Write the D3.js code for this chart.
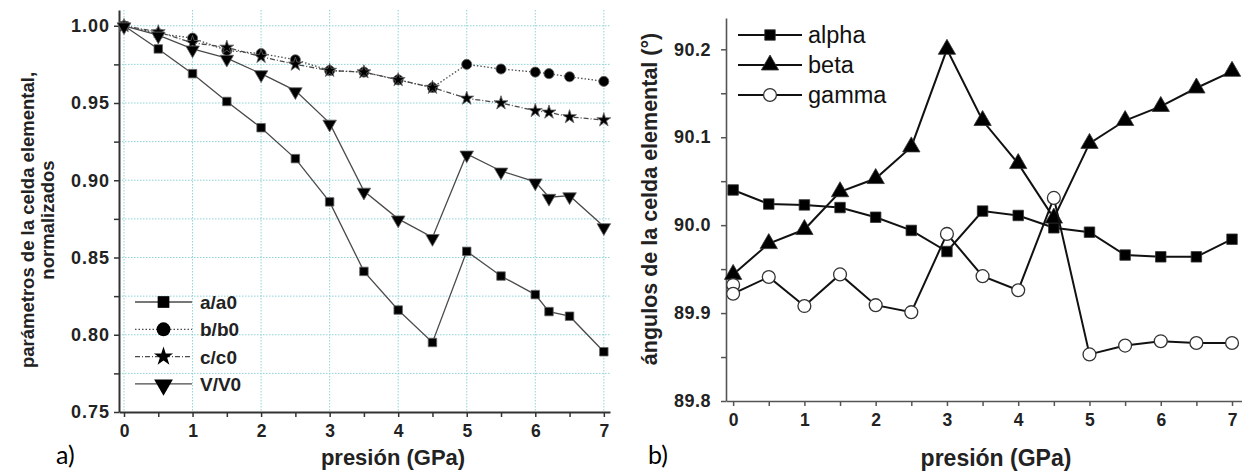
<!DOCTYPE html>
<html>
<head>
<meta charset="utf-8">
<script src="https://cdn.jsdelivr.net/npm/d3@7"></script>
<style>
  body { margin: 0; background: #fff; }
  svg { display: block; font-family: "Liberation Sans", Arial, sans-serif; }
  .tick text { font-weight: bold; fill: #222; }
</style>
</head>
<body>
<svg id="chart" width="1242" height="472"></svg>
<script>
"use strict";

// panel a) normalized cell parameters
const pressA = [0, 0.5, 1, 1.5, 2, 2.5, 3, 3.5, 4, 4.5, 5, 5.5, 6, 6.2, 6.5, 7];
const aRatio = [1.000, 0.985, 0.969, 0.951, 0.934, 0.914, 0.886, 0.841, 0.816, 0.795, 0.854, 0.838, 0.826, 0.815, 0.812, 0.789];
const bRatio = [1.000, 0.995, 0.992, 0.984, 0.982, 0.978, 0.971, 0.970, 0.965, 0.960, 0.975, 0.972, 0.970, 0.969, 0.967, 0.964];
const cRatio = [1.000, 0.996, 0.989, 0.986, 0.980, 0.975, 0.971, 0.970, 0.965, 0.960, 0.953, 0.950, 0.945, 0.944, 0.941, 0.939];
const vRatio = [1.000, 0.994, 0.985, 0.979, 0.969, 0.958, 0.937, 0.893, 0.875, 0.863, 0.917, 0.906, 0.899, 0.889, 0.890, 0.870];
const namesA = ["a/a0", "b/b0", "c/c0", "V/V0"];
const ticksA = [0.75, 0.80, 0.85, 0.90, 0.95, 1.00];

// panel b) cell angles
const pressB = [0, 0.5, 1, 1.5, 2, 2.5, 3, 3.5, 4, 4.5, 5, 5.5, 6, 6.5, 7];
const alpha = [90.040, 90.024, 90.023, 90.020, 90.009, 89.994, 89.970, 90.016, 90.011, 89.997, 89.992, 89.966, 89.964, 89.964, 89.984];
const beta  = [89.944, 89.979, 89.995, 90.038, 90.053, 90.089, 90.200, 90.119, 90.070, 90.008, 90.093, 90.119, 90.135, 90.156, 90.175];
const pressGamma = [0, 0, 0.5, 1, 1.5, 2, 2.5, 3, 3.5, 4, 4.5, 5, 5.5, 6, 6.5, 7];
const gamma = [89.932, 89.922, 89.941, 89.908, 89.944, 89.909, 89.901, 89.990, 89.942, 89.926, 90.031, 89.853, 89.863, 89.868, 89.866, 89.866];
const namesB = ["alpha", "beta", "gamma"];
const ticksB = [89.8, 89.9, 90.0, 90.1, 90.2];

const svg = d3.select("#chart");

// ---------- panel a ----------
const xA = d3.scaleLinear().domain([-0.073, 7.09]).range([119, 610]);
const yA = d3.scaleLinear().domain([0.75, 1.0102]).range([412, 10]);

const gA = svg.append("g");

// dotted grid: integer pressures, every 0.025 in y
gA.append("g").selectAll("line")
    .data(d3.range(0, 8))
    .join("line")
    .attr("x1", d => xA(d)).attr("x2", d => xA(d))
    .attr("y1", yA.range()[1]).attr("y2", yA.range()[0])
    .attr("stroke", "#8fd3d8").attr("stroke-width", 1).attr("stroke-dasharray", "1.5,1.5");
gA.append("g").selectAll("line")
    .data(d3.range(0.775, 1.01, 0.025))
    .join("line")
    .attr("x1", xA.range()[0]).attr("x2", xA.range()[1])
    .attr("y1", d => yA(d)).attr("y2", d => yA(d))
    .attr("stroke", "#8fd3d8").attr("stroke-width", 1).attr("stroke-dasharray", "1.5,1.5");

const axisA = (g, axis) => {
    g.call(axis);
    g.select(".domain").attr("stroke", "#333").attr("stroke-width", 2);
    g.selectAll(".tick line").attr("stroke", "#333").attr("stroke-width", 1.5);
};

gA.append("g")
    .attr("transform", "translate(0,412)")
    .call(g => axisA(g, d3.axisBottom(xA).tickValues(d3.range(0, 7.01, 0.5)).tickSize(5).tickPadding(5).tickSizeOuter(0)
        .tickFormat(d => Number.isInteger(d) ? d : "")))
    .selectAll(".tick text").attr("font-size", 17.5).attr("dy", "0.85em");
gA.append("g")
    .attr("transform", "translate(119,0)")
    .call(g => axisA(g, d3.axisLeft(yA).tickValues(d3.range(0.75, 1.01, 0.025)).tickSize(5).tickPadding(4).tickSizeOuter(0)
        .tickFormat(d => ticksA.some(t => Math.abs(t - d) < 1e-6) ? d3.format(".2f")(d) : "")))
    .selectAll(".tick text").attr("font-size", 18).attr("letter-spacing", 1);

const seriesA = [
    { name: namesA[0], values: aRatio, dash: null, symbol: d3.symbolSquare, size: 72 },
    { name: namesA[1], values: bRatio, dash: "1.5,2", symbol: d3.symbolCircle, size: 80 },
    { name: namesA[2], values: cRatio, dash: "5,2,1,2", symbol: d3.symbolStar, size: 60 },
    { name: namesA[3], values: vRatio, dash: null, symbol: d3.symbolTriangle, size: 80, flip: true }
];

const lineA = d3.line().x(d => xA(d[0])).y(d => yA(d[1]));
seriesA.forEach(s => {
    const pts = pressA.map((p, i) => [p, s.values[i]]);
    gA.append("path")
        .datum(pts)
        .attr("d", lineA)
        .attr("fill", "none")
        .attr("stroke", "#4a4a4a")
        .attr("stroke-width", 1.3)
        .attr("stroke-dasharray", s.dash);
    gA.append("g").selectAll("path")
        .data(pts)
        .join("path")
        .attr("d", d3.symbol(s.symbol, s.size))
        .attr("transform", d => `translate(${xA(d[0])},${yA(d[1])})` + (s.flip ? " rotate(180) translate(0,-1)" : ""))
        .attr("fill", "#000")
        .attr("stroke", "#666")
        .attr("stroke-width", 0.8);
});

// legend
const legA = gA.append("g").attr("transform", "translate(135,302)");
seriesA.forEach((s, i) => {
    const row = legA.append("g").attr("transform", `translate(0,${i * 27.3})`);
    row.append("line")
        .attr("x1", 0).attr("x2", 57)
        .attr("stroke", "#4a4a4a").attr("stroke-width", 1.3)
        .attr("stroke-dasharray", s.dash);
    row.append("path")
        .attr("d", d3.symbol(s.symbol, s.size * 1.9))
        .attr("transform", "translate(28.5,0)" + (s.flip ? " rotate(180) translate(0,-1)" : ""))
        .attr("fill", "#000");
    row.append("text")
        .attr("x", 65).attr("y", 7)
        .attr("font-size", 19).attr("font-weight", "bold")
        .attr("fill", "#222")
        .text(s.name);
});

gA.append("text")
    .attr("transform", "translate(34,220) rotate(-90)")
    .attr("text-anchor", "middle")
    .attr("font-size", 18.5).attr("font-weight", "bold").attr("fill", "#222")
    .selectAll("tspan")
    .data(["parámetros de la celda elemental,", "normalizados"])
    .join("tspan")
    .attr("x", 0).attr("dy", (d, i) => i === 0 ? 0 : 20)
    .text(d => d);

gA.append("text")
    .attr("x", 393).attr("y", 465)
    .attr("text-anchor", "middle")
    .attr("font-size", 22).attr("font-weight", "bold").attr("fill", "#222")
    .text("presión (GPa)");

svg.append("text")
    .attr("x", 56).attr("y", 464)
    .attr("font-family", "Lato, 'Open Sans', sans-serif")
    .attr("font-size", 25).attr("fill", "#000")
    .text("a)");

// ---------- panel b ----------
const xB = d3.scaleLinear().domain([-0.1, 7.14]).range([726, 1242]);
const yB = d3.scaleLinear().domain([89.8, 90.2356]).range([401, 18]);

const gB = svg.append("g");

const axisB = (g, axis) => {
    g.call(axis);
    g.select(".domain").attr("stroke", "#555").attr("stroke-width", 1.6);
    g.selectAll(".tick line").attr("stroke", "#555").attr("stroke-width", 1.5);
};

gB.append("g")
    .attr("transform", "translate(0,401)")
    .call(g => axisB(g, d3.axisBottom(xB).tickValues(d3.range(0, 7.01, 0.5)).tickSize(5).tickPadding(5).tickSizeOuter(0)
        .tickFormat(d => Number.isInteger(d) ? d : "")))
    .selectAll(".tick text").attr("font-size", 17.5).attr("dy", "0.85em");
gB.append("g")
    .attr("transform", "translate(726,0)")
    .call(g => axisB(g, d3.axisLeft(yB).tickValues(d3.range(89.8, 90.21, 0.05)).tickSize(5).tickPadding(10).tickSizeOuter(0)
        .tickFormat(d => ticksB.some(t => Math.abs(t - d) < 1e-6) ? d3.format(".1f")(d) : "")))
    .selectAll(".tick text").attr("font-size", 18).attr("letter-spacing", 0.5);

const seriesB = [
    { name: namesB[0], x: pressB, values: alpha, symbol: d3.symbolSquare, size: 110, fill: "#000" },
    { name: namesB[1], x: pressB, values: beta, symbol: d3.symbolTriangle, size: 130, fill: "#000" },
    { name: namesB[2], x: pressGamma, values: gamma, symbol: d3.symbolCircle, size: 130, fill: "#fff" }
];

const lineB = d3.line().x(d => xB(d[0])).y(d => yB(d[1]));
seriesB.forEach(s => {
    const pts = s.x.map((p, i) => [p, s.values[i]]);
    gB.append("path")
        .datum(pts)
        .attr("d", lineB)
        .attr("fill", "none")
        .attr("stroke", "#111")
        .attr("stroke-width", 2);
    gB.append("g").selectAll("path")
        .data(pts)
        .join("path")
        .attr("d", d3.symbol(s.symbol, s.size))
        .attr("transform", d => `translate(${xB(d[0])},${yB(d[1])})`)
        .attr("fill", s.fill)
        .attr("stroke", "#333")
        .attr("stroke-width", s.fill === "#fff" ? 1.3 : 0.8);
});

const legB = gB.append("g").attr("transform", "translate(738,35)");
seriesB.forEach((s, i) => {
    const row = legB.append("g").attr("transform", `translate(0,${i * 30})`);
    row.append("line")
        .attr("x1", 0).attr("x2", 64)
        .attr("stroke", "#111").attr("stroke-width", 2);
    row.append("path")
        .attr("d", d3.symbol(s.symbol, s.size))
        .attr("transform", "translate(32,0)")
        .attr("fill", s.fill)
        .attr("stroke", "#333")
        .attr("stroke-width", s.fill === "#fff" ? 1.3 : 0.8);
    row.append("text")
        .attr("x", 70).attr("y", 8)
        .attr("font-size", 23.5).attr("fill", "#111")
        .text(s.name);
});

gB.append("text")
    .attr("transform", "translate(657,199) rotate(-90)")
    .attr("text-anchor", "middle")
    .attr("font-size", 21.5).attr("font-weight", "bold").attr("fill", "#222")
    .text("ángulos de la celda elemental (°)");

gB.append("text")
    .attr("x", 996).attr("y", 466)
    .attr("text-anchor", "middle")
    .attr("font-size", 23).attr("font-weight", "bold").attr("fill", "#222")
    .text("presión (GPa)");

svg.append("text")
    .attr("x", 648).attr("y", 464)
    .attr("font-family", "Lato, 'Open Sans', sans-serif")
    .attr("font-size", 25).attr("fill", "#000")
    .text("b)");
</script>
</body>
</html>
